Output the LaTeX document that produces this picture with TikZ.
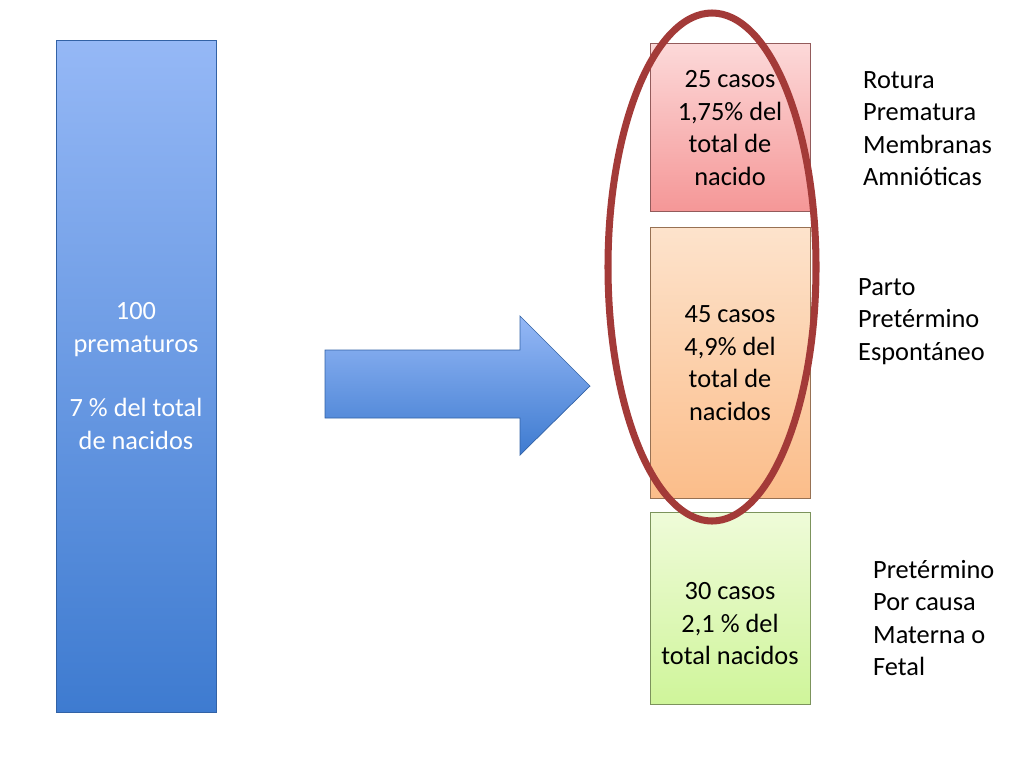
\documentclass[tikz,border=0pt]{standalone}
\usepackage{fontspec}
\setmainfont{Carlito}
\usetikzlibrary{positioning}
\definecolor{barTop}{HTML}{95B8F6}
\definecolor{barBot}{HTML}{3E7BD0}
\definecolor{redTop}{HTML}{FCD9D9}
\definecolor{redBot}{HTML}{F59797}
\definecolor{orTop}{HTML}{FDE3CC}
\definecolor{orBot}{HTML}{FBBD8A}
\definecolor{grTop}{HTML}{EFFBD9}
\definecolor{grBot}{HTML}{CFF59A}
\definecolor{ringRed}{HTML}{A33A38}
\tikzset{
  txt/.style={font=\fontsize{15}{18.5}\selectfont, align=center},
  lbl/.style={font=\fontsize{15}{18.5}\selectfont, align=left, anchor=north west},
  casebox/.style={draw=#1!60!black, line width=0.4pt}
}
\begin{document}
\begin{tikzpicture}[x=0.02cm,y=-0.02cm]
  \useasboundingbox (0,0) rectangle (1024,768);
  % left bar
  \shade[top color=barTop, bottom color=barBot, draw=barBot!80!black] (56,40) rectangle (216,712);
  \node[txt, white] (total) at (136,376) {100\\prematuros\\[18pt]7 \% del total\\de nacidos};
  % arrow
  \shade[top color=barTop, bottom color=barBot, draw=barBot!80!black]
    (325,350) -- (520,350) -- (520,316) -- (590,386) -- (520,455) -- (520,418) -- (325,418) -- cycle;
  % case boxes
  \shade[top color=redTop, bottom color=redBot, casebox=redBot] (650,43) rectangle (810,211);
  \shade[top color=orTop, bottom color=orBot, casebox=orBot] (650,227) rectangle (810,498);
  \shade[top color=grTop, bottom color=grBot, casebox=grBot] (650,512) rectangle (810,704);
  \node[txt] (rpm) at (730,128) {25 casos\\1,75\% del\\total de\\nacido};
  \node[txt] (ppe) at (730,363) {45 casos\\4,9\% del\\total de\\nacidos};
  \node[txt] (pcm) at (730,624) {30 casos\\2,1 \% del\\total nacidos};
  % ring
  \draw[ringRed, line width=4pt] (712,267) ellipse (104 and 254);
  % labels
  \node[lbl] (l1) at (857,65) {Rotura\\Prematura\\Membranas\\Amnióticas};
  \node[lbl] (l2) at (852,272) {Parto\\Pretérmino\\Espontáneo};
  \node[lbl] (l3) at (867,554) {Pretérmino\\Por causa\\Materna o\\Fetal};
\end{tikzpicture}
\end{document}
